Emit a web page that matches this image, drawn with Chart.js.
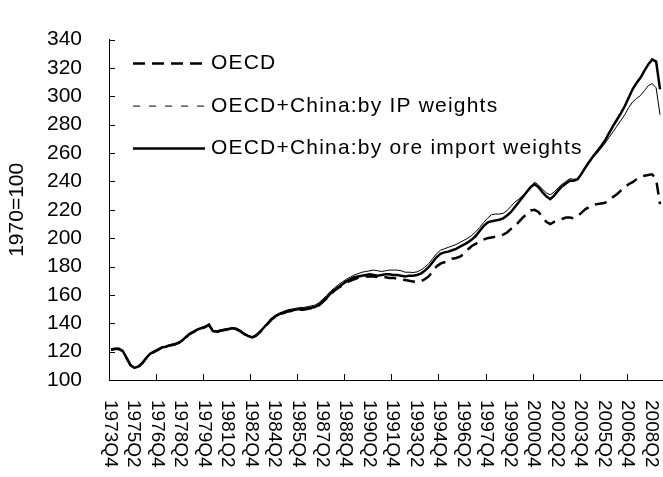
<!DOCTYPE html>
<html>
<head>
<meta charset="utf-8">
<script src="https://cdn.jsdelivr.net/npm/chart.js@4/dist/chart.umd.min.js"></script>
<style>
  html, body { margin: 0; padding: 0; background: #fff; }
  #wrap { width: 663px; height: 477px; }
</style>
</head>
<body>
<div id="wrap"><canvas id="grafico" width="663" height="477"></canvas></div>
<script>
// quarterly index, 1970=100
const quarters = [
  '1973Q4',
  '1974Q1','1974Q2','1974Q3','1974Q4','1975Q1','1975Q2','1975Q3','1975Q4',
  '1976Q1','1976Q2','1976Q3','1976Q4','1977Q1','1977Q2','1977Q3','1977Q4',
  '1978Q1','1978Q2','1978Q3','1978Q4','1979Q1','1979Q2','1979Q3','1979Q4',
  '1980Q1','1980Q2','1980Q3','1980Q4','1981Q1','1981Q2','1981Q3','1981Q4',
  '1982Q1','1982Q2','1982Q3','1982Q4','1983Q1','1983Q2','1983Q3','1983Q4',
  '1984Q1','1984Q2','1984Q3','1984Q4','1985Q1','1985Q2','1985Q3','1985Q4',
  '1986Q1','1986Q2','1986Q3','1986Q4','1987Q1','1987Q2','1987Q3','1987Q4',
  '1988Q1','1988Q2','1988Q3','1988Q4','1989Q1','1989Q2','1989Q3','1989Q4',
  '1990Q1','1990Q2','1990Q3','1990Q4','1991Q1','1991Q2','1991Q3','1991Q4',
  '1992Q1','1992Q2','1992Q3','1992Q4','1993Q1','1993Q2','1993Q3','1993Q4',
  '1994Q1','1994Q2','1994Q3','1994Q4','1995Q1','1995Q2','1995Q3','1995Q4',
  '1996Q1','1996Q2','1996Q3','1996Q4','1997Q1','1997Q2','1997Q3','1997Q4',
  '1998Q1','1998Q2','1998Q3','1998Q4','1999Q1','1999Q2','1999Q3','1999Q4',
  '2000Q1','2000Q2','2000Q3','2000Q4','2001Q1','2001Q2','2001Q3','2001Q4',
  '2002Q1','2002Q2','2002Q3','2002Q4','2003Q1','2003Q2','2003Q3','2003Q4',
  '2004Q1','2004Q2','2004Q3','2004Q4','2005Q1','2005Q2','2005Q3','2005Q4',
  '2006Q1','2006Q2','2006Q3','2006Q4','2007Q1','2007Q2','2007Q3','2007Q4',
  '2008Q1','2008Q2','2008Q3','2008Q4'
];

const oecd = [
  121.3,121.8,121.9,120.3,115.3,110.4,108.4,109.3,111.8,115.3,
  118.3,119.8,121.3,122.8,123.3,124.3,124.8,125.8,127.3,129.8,
  132.3,133.8,135.3,136.3,137.3,138.8,134.2,133.8,134.8,135.3,
  135.8,136.3,135.8,134.3,132.3,130.8,129.8,131.3,133.8,136.8,
  139.8,142.8,144.8,146.2,147.2,148.2,148.7,149.2,149.6,149.6,
  150.1,150.5,151,152.5,155,157.5,160.5,163,165,166.8,
  168.5,170,171,172,172.5,173,173,173,172.5,172.5,
  172.5,172,172,171.5,171,170.5,170,169.5,169,169.5,
  171,173,176.5,180,182,183,184,185.5,186,187,
  189,192,194.5,196,197.5,199,200,200.5,201,201.5,
  202.5,204,206.5,208.5,211.5,214.5,217,219.5,220,218.5,
  215,211.5,210,211.5,212.5,213.5,214.5,214.5,214,215.5,
  218,220.5,222,223.5,224,224.5,225,227,229,231,
  233.5,236,238,239.5,241.5,243,244,244.5,245,241.5,
  224
];

const ipWeights = [
  121.8,122.3,122.2,120.7,115.7,110.6,108.6,109.7,112.2,115.7,
  118.7,120.2,121.7,123.2,123.8,124.8,125.3,126.3,127.8,130.3,
  132.8,134.3,135.8,136.9,137.9,139.4,134.9,134.4,135.4,135.9,
  136.4,136.9,136.5,135,133,131.5,130.4,132,134.5,137.6,
  140.7,143.7,145.8,147.3,148.4,149.4,150,150.5,151,151.1,
  151.6,152.2,152.8,154.4,157,159.6,162.6,165,167.2,169.2,
  171,172.5,174,175,176,176.5,177,177.5,177,176.5,
  177,177.5,177.5,177.5,177,176,176,175.8,176.2,177.5,
  179.5,182,185.5,189,191.5,192.5,193.5,194.5,195.5,197,
  198.5,200,202,204.5,207.5,211,214,216.5,217,217,
  217.5,219.5,222.5,225.5,227.5,230,233,236.5,239.5,237.5,
  234.5,232,230.5,232.5,235.5,238,240,242,241.5,242,
  246,250,253.5,257,260,263.5,267,271,275,279,
  283,287,292,296,298.5,300.5,304,307.5,309,306,
  287
];

const oreWeights = [
  121.5,122,122,120.5,115.5,110.5,108.5,109.5,112,115.5,
  118.5,120,121.5,123,123.5,124.5,125,126,127.5,130,
  132.5,134,135.5,136.5,137.5,139,134.5,134,135,135.5,
  136,136.5,136,134.5,132.5,131,130,131.5,134,137,
  140,143,145,146.5,147.5,148.5,149,149.5,150,150,
  150.5,151,151.5,153,155.5,158,161,163.5,165.5,167.5,
  169.5,171,172.5,173,173.5,174,174.5,174,173.5,174,
  174.5,174.5,174,174,173.5,173,173.5,173.5,174,175,
  177,179.5,183,186.5,189,190,190.5,191.5,192.5,194,
  195.5,197,199,201.5,205,208.5,211,212,212.5,213,
  214,216,218.5,222,225.5,229,232.5,236,238,236,
  232.5,229.5,227.5,230,233.5,236.5,238.5,240.5,240.5,241.5,
  245.5,250,254,258,261.5,265,269,274,279,283.5,
  288,293,299,305,309.5,313,318,322.5,326,324.5,
  305
];

const seriesNames = ['OECD', 'OECD+China:by IP weights', 'OECD+China:by ore import weights'];
const yMin = 100, yMax = 340, yStep = 20;
const labelEvery = 6;   // one label every 6 quarters
const tickEvery = 12;   // tick mark every 12 quarters

const FONT = "'Liberation Sans', Arial, sans-serif";

// ticks inside the axes, rotated x labels and the legend box
const extras = {
  id: 'extras',
  afterDraw(chart) {
    const ctx = chart.ctx;
    const x = chart.scales.x, y = chart.scales.y;
    const area = chart.chartArea;
    const step = x.getPixelForValue(1) - x.getPixelForValue(0);
    ctx.save();
    ctx.strokeStyle = '#000';
    ctx.lineWidth = 1;
    y.ticks.forEach(t => {
      const py = Math.round(y.getPixelForValue(t.value)) + 0.5;
      ctx.beginPath();
      ctx.moveTo(area.left, py);
      ctx.lineTo(area.left + 6, py);
      ctx.stroke();
    });
    for (let i = tickEvery; i < quarters.length; i += tickEvery) {
      const px = Math.round(x.getPixelForValue(i) - step / 2) + 0.5;
      ctx.beginPath();
      ctx.moveTo(px, area.bottom);
      ctx.lineTo(px, area.bottom - 6);
      ctx.stroke();
    }

    ctx.fillStyle = '#000';
    ctx.font = '19px ' + FONT;
    ctx.textAlign = 'left';
    ctx.textBaseline = 'middle';
    quarters.forEach((q, i) => {
      if (i % labelEvery) return;
      ctx.save();
      ctx.translate(x.getPixelForValue(i) - 1, area.bottom + 20);
      ctx.rotate(Math.PI / 2);
      ctx.fillText(q, 0, 0);
      ctx.restore();
    });

    // legend (the original text is spaced out a bit)
    const rows = [area.top + 24, area.top + 66.5, area.top + 109];
    ctx.font = '21px ' + FONT;
    ctx.letterSpacing = '1.2px';
    chart.data.datasets.forEach((ds, k) => {
      const ry = rows[k];
      ctx.beginPath();
      ctx.lineWidth = ds.borderWidth;
      ctx.setLineDash(ds.legendDash || []);
      ctx.moveTo(area.left + 24, ry);
      ctx.lineTo(area.left + 96, ry);
      ctx.stroke();
      ctx.setLineDash([]);
      ctx.fillText(ds.label, area.left + 102, ry);
    });
    ctx.letterSpacing = '0px';
    ctx.restore();
  }
};

new Chart(document.getElementById('grafico'), {
  type: 'line',
  data: {
    labels: quarters,
    datasets: [
      {
        label: seriesNames[0],
        data: oecd,
        borderColor: '#000',
        borderWidth: 2.5,
        borderDash: [12, 7],
        legendDash: [12, 7],
        pointRadius: 0,
        tension: 0,
        fill: false
      },
      {
        label: seriesNames[1],
        data: ipWeights,
        borderColor: '#000',
        borderWidth: 1,
        legendDash: [7, 9],
        pointRadius: 0,
        tension: 0,
        fill: false
      },
      {
        label: seriesNames[2],
        data: oreWeights,
        borderColor: '#000',
        borderWidth: 2.5,
        pointRadius: 0,
        tension: 0,
        fill: false
      }
    ]
  },
  options: {
    responsive: false,
    animation: false,
    events: [],
    layout: { padding: { top: 21, right: 1, left: 0, bottom: 0 } },
    plugins: {
      legend: { display: false },
      tooltip: { enabled: false }
    },
    scales: {
      x: {
        type: 'category',
        offset: true,
        grid: { display: false, drawTicks: false },
        border: { color: '#000', width: 1 },
        ticks: { display: false },
        afterFit: s => { s.height = 97; }
      },
      y: {
        min: yMin,
        max: yMax,
        grid: { display: false, drawTicks: false },
        border: { color: '#000', width: 1 },
        ticks: {
          stepSize: yStep,
          padding: 27,
          color: '#000',
          font: { size: 21, family: FONT }
        },
        title: {
          display: true,
          text: '1970=100',
          color: '#000',
          font: { size: 21, family: FONT },
          padding: { top: 5, bottom: 0 }
        },
        afterFit: s => { s.width = 109; }
      }
    }
  },
  plugins: [extras]
});
</script>
</body>
</html>
